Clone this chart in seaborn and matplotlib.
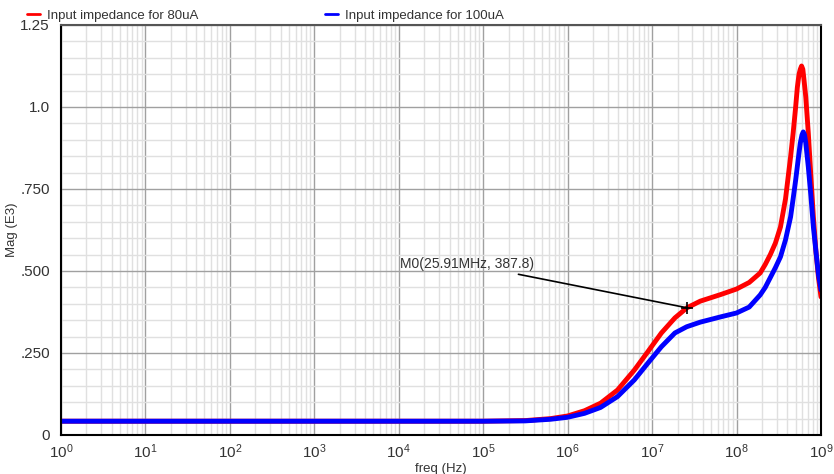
import numpy as np
import pandas as pd
import matplotlib
matplotlib.use("Agg")
import matplotlib.pyplot as plt
import seaborn as sns
from matplotlib.ticker import LogLocator, MultipleLocator, FixedLocator, FixedFormatter
from matplotlib.lines import Line2D

# ---- data (log10 of frequency in Hz, magnitude in E3 ohm) ----
red_logf = [0, 5.0, 5.5, 5.8, 6.0, 6.2, 6.39, 6.59, 6.79, 6.95, 7.11, 7.27, 7.413, 7.57,
            7.81, 8.0, 8.15, 8.28, 8.34, 8.4, 8.46, 8.52, 8.58, 8.64, 8.67, 8.70, 8.72, 8.74,
            8.755, 8.77, 8.785, 8.80, 8.82, 8.85, 8.88, 8.91, 8.94, 8.97, 9.0]
red_mag = [0.042, 0.042, 0.044, 0.050, 0.058, 0.074, 0.097, 0.137, 0.198, 0.254, 0.311, 0.357, 0.3878, 0.408,
           0.428, 0.445, 0.465, 0.494, 0.52, 0.55, 0.585, 0.634, 0.72, 0.848, 0.92, 1.0, 1.06, 1.10,
           1.115, 1.125, 1.115, 1.08, 1.03, 0.92, 0.79, 0.665, 0.56, 0.48, 0.421]
blue_logf = [0, 5.0, 5.5, 5.8, 6.0, 6.2, 6.39, 6.59, 6.79, 6.95, 7.11, 7.27, 7.41, 7.57,
             7.81, 8.0, 8.15, 8.28, 8.34, 8.4, 8.46, 8.52, 8.58, 8.64, 8.67, 8.70, 8.73, 8.755,
             8.775, 8.79, 8.805, 8.82, 8.85, 8.88, 8.91, 8.94, 8.97, 9.0]
blue_mag = [0.042, 0.042, 0.043, 0.048, 0.054, 0.066, 0.084, 0.117, 0.168, 0.219, 0.269, 0.311, 0.330, 0.344,
            0.360, 0.372, 0.39, 0.427, 0.45, 0.48, 0.51, 0.543, 0.595, 0.665, 0.72, 0.777, 0.84, 0.89,
            0.915, 0.924, 0.915, 0.89, 0.817, 0.73, 0.634, 0.56, 0.49, 0.442]
series_names = ["Input impedance for 80uA", "Input impedance for 100uA"]
series_colors = ["#ff0000", "#0000ff"]
marker_f = 25.91e6
marker_mag = 0.3878
marker_label = "M0(25.91MHz, 387.8)"
ytick_vals = [0, 0.25, 0.5, 0.75, 1.0, 1.25]
ytick_labels = ["0", ".250", ".500", ".750", "1.0", "1.25"]

df = pd.concat([
    pd.DataFrame({"freq": 10 ** np.array(red_logf), "mag": red_mag, "series": series_names[0]}),
    pd.DataFrame({"freq": 10 ** np.array(blue_logf), "mag": blue_mag, "series": series_names[1]}),
], ignore_index=True)

sns.set_style("white")
plt.rcParams["font.family"] = ["Liberation Sans", "DejaVu Sans"]
plt.rcParams["mathtext.fontset"] = "custom"
plt.rcParams["mathtext.rm"] = "Liberation Sans"

fig = plt.figure(figsize=(8.34, 4.74), dpi=100)
ax = fig.add_axes([0.0731, 0.0823, 0.9113, 0.865])

sns.lineplot(data=df, x="freq", y="mag", hue="series", palette=series_colors,
             linewidth=3.5, ax=ax, legend=False, sort=False, estimator=None)

ax.set_xscale("log")
ax.set_xlim(1, 1e9)
ax.set_ylim(0, 1.25)

ax.xaxis.set_major_locator(LogLocator(base=10, numticks=12))
ax.xaxis.set_minor_locator(LogLocator(base=10, subs=np.arange(2, 10), numticks=12))
ax.yaxis.set_major_locator(FixedLocator(ytick_vals))
ax.yaxis.set_major_formatter(FixedFormatter(ytick_labels))
ax.yaxis.set_minor_locator(MultipleLocator(0.05))

ax.grid(which="major", color="#a0a0a0", linewidth=1.0)
ax.grid(which="minor", color="#e0e0e0", linewidth=1.0)
ax.set_axisbelow(True)

ax.tick_params(axis="both", which="major", colors="black", width=1)
ax.tick_params(axis="y", which="major", direction="out", length=7, pad=1, labelsize=11, labelcolor="#333333")
ax.tick_params(axis="y", which="minor", direction="out", length=4, width=0.8)
ax.tick_params(axis="x", which="major", direction="in", length=6, pad=5, labelsize=11, labelcolor="#333333")
ax.tick_params(axis="x", which="minor", direction="in", length=3, width=0.8)
ax.tick_params(axis="x", which="both", top=False)

for side in ["left", "bottom", "right"]:
    ax.spines[side].set_color("black")
    ax.spines[side].set_linewidth(1.5)
ax.spines["top"].set_color("#555555")
ax.spines["top"].set_linewidth(1.5)

ax.set_xlabel("freq (Hz)", fontsize=9.5, color="#333333", labelpad=2)
ax.set_ylabel("Mag (E3)", fontsize=9.5, color="#333333")
ax.yaxis.set_label_coords(-0.057, 0.5)

# marker + annotation
ax.plot([marker_f], [marker_mag], marker="+", color="black", markersize=8, mew=1.2, zorder=5)
ax.annotate(marker_label, xy=(marker_f, marker_mag), xytext=(0.622, 0.417),
            textcoords="axes fraction", fontsize=10, color="#333333",
            ha="right", va="center",
            arrowprops=dict(arrowstyle="-", color="black", lw=1.2, shrinkA=0, shrinkB=0))

# legend
handles = [Line2D([], [], color=c, lw=2) for c in series_colors]
fig.legend(handles, series_names, loc="upper left", bbox_to_anchor=(0.018, 1.005), ncol=2,
           frameon=False, fontsize=9.5, handlelength=1.0, handletextpad=0.5, columnspacing=9.6,
           labelcolor="#333333")

fig.savefig("out.png", dpi=100, facecolor="white")
